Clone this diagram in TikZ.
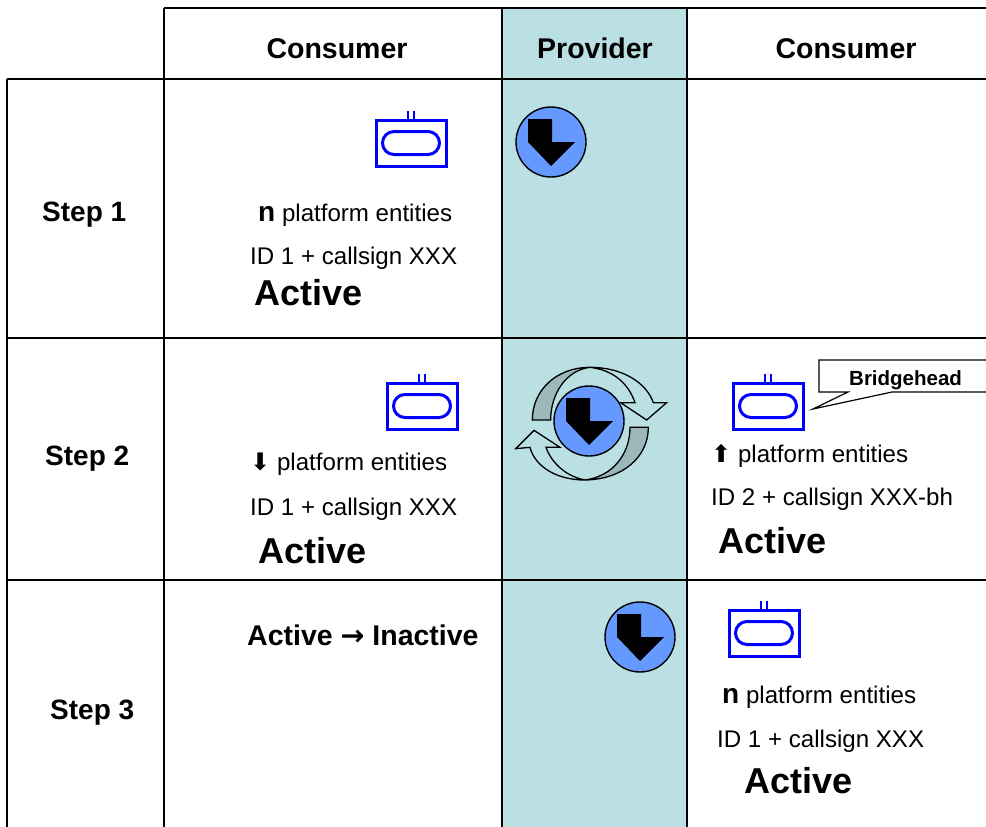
\documentclass[tikz,border=0pt]{standalone}
\usepackage{fontspec}
\setmainfont{Liberation Sans}
\newfontfamily\symfont{DejaVu Sans}
\usetikzlibrary{positioning, shapes.misc}

\definecolor{providerbg}{HTML}{BAE0E3}
\definecolor{diskblue}{HTML}{6699FF}
\definecolor{ribbongray}{HTML}{9CB8BA}
\definecolor{unitblue}{HTML}{0000FF}

\tikzset{
    header/.style={font=\fontsize{28.5}{32}\selectfont\bfseries, anchor=base},
    stepname/.style={font=\fontsize{28}{32}\selectfont\bfseries, anchor=base west, inner sep=0pt},
    body/.style={font=\fontsize{24.1}{28}\selectfont, anchor=base west, inner sep=0pt},
    state/.style={font=\fontsize{36}{40}\selectfont\bfseries, anchor=base west, inner sep=0pt},
    change/.style={font=\fontsize{28.5}{32}\selectfont\bfseries, anchor=base west, inner sep=0pt},
    gridline/.style={line width=1.8pt},
    unit/.pic={
        \draw[unitblue, line width=3pt] (-35,-23) rectangle (35,23);
        \node[draw=unitblue, line width=3pt, rounded rectangle, minimum width=57pt,
              minimum height=23pt, inner sep=0pt] (-inner) at (0,0) {};
        \draw[unitblue, line width=2pt] (-3,-24) -- (-3,-32);
        \draw[unitblue, line width=2pt] (3,-24) -- (3,-32);
    },
    disk/.pic={
        \node[circle, draw=black, line width=1.4pt, fill=diskblue, minimum size=70pt,
              inner sep=0pt] (-ring) at (0,0) {};
        \fill[black] (-23,-23) -- (1,-23) -- (1,0) -- (24,0) -- (0,24) -- (-23,0) -- cycle;
    }
}

\begin{document}
\begin{tikzpicture}[x=1pt, y=-1pt]
    \useasboundingbox (0,0) rectangle (986,827);
    \fill[white] (0,0) rectangle (986,827);
    \fill[providerbg] (502,8) rectangle (687,827);

    \draw[gridline] (164,8) -- (986,8);
    \draw[gridline] (7,79) -- (986,79);
    \draw[gridline] (7,338) -- (986,338);
    \draw[gridline] (7,580) -- (986,580);
    \draw[gridline] (7,79) -- (7,827);
    \draw[gridline] (164,8) -- (164,827);
    \draw[gridline] (502,8) -- (502,827);
    \draw[gridline] (687,8) -- (687,827);

    \node[header] (consumerl) at (337,58) {Consumer};
    \node[header] (provider) at (595,58) {Provider};
    \node[header] (consumerr) at (846,58) {Consumer};

    \node[stepname] (stepa) at (42,221) {Step 1};
    \node[stepname] (stepb) at (45,465) {Step 2};
    \node[stepname] (stepc) at (50,719) {Step 3};

    \pic (unita) at (411,143) {unit};
    \pic (diska) at (551,142) {disk};
    \node[body] (entitiesa) at (258,221) {{\fontsize{28}{32}\selectfont\bfseries n} platform entities};
    \node[body] (ida) at (250,264) {ID 1 + callsign XXX};
    \node[state] (activea) at (254,305) {Active};

    \pic (unitb) at (422,406) {unit};
    \node[body] (entitiesb) at (250,470) {{\symfont ⬇} platform entities};
    \node[body] (idb) at (250,515) {ID 1 + callsign XXX};
    \node[state] (activeb) at (258,563) {Active};

    \begin{scope}[shift={(500,350)}, scale=1/3, line width=1.3pt, draw=black]
        \filldraw[fill=ribbongray] (97,210) .. controls (97,120) and (170,52) .. (270,52)
            .. controls (200,60) and (152,130) .. (152,210) -- cycle;
        \filldraw[fill=providerbg] (270,52) .. controls (370,52) and (440,100) .. (460,158)
            -- (500,158) -- (440,210) -- (362,158) -- (405,158)
            .. controls (385,100) and (340,60) .. (270,52) -- cycle;
        \filldraw[fill=ribbongray] (445,232) .. controls (445,320) and (370,388) .. (255,390)
            .. controls (335,380) and (390,315) .. (390,232) -- cycle;
        \filldraw[fill=providerbg] (255,390) .. controls (170,390) and (105,350) .. (90,292)
            -- (47,296) -- (102,241) -- (180,292) -- (138,292)
            .. controls (155,340) and (200,380) .. (255,390) -- cycle;
    \end{scope}
    \pic (diskb) at (589,421) {disk};

    \pic (unitc) at (768,406) {unit};
    \node[font=\fontsize{20.5}{24}\selectfont\bfseries, anchor=base west, inner sep=0pt] (bridge) at (849,385) {Bridgehead};
    \coordinate (tip) at (813,409);
    \filldraw[fill=white, draw=black, line width=1.2pt] (1000,360) -- (819,360) -- (819,392) -- (848,392)
        -- (tip) -- (892,392) -- (1000,392);
    \node[font=\fontsize{20.5}{24}\selectfont\bfseries, anchor=base west, inner sep=0pt] (bridgetext) at (849,385) {Bridgehead};
    \node[body] (entitiesc) at (711,462) {{\symfont ⬆} platform entities};
    \node[body] (idc) at (711,505) {ID 2 + callsign XXX-bh};
    \node[state] (activec) at (718,553) {Active};

    \node[change] (inactive) at (247,645) {Active {\symfont\bfseries →} Inactive};
    \pic (diskc) at (640,637) {disk};

    \pic (unitd) at (764,633) {unit};
    \node[body] (entitiesd) at (722,703) {{\fontsize{28}{32}\selectfont\bfseries n} platform entities};
    \node[body] (idd) at (717,747) {ID 1 + callsign XXX};
    \node[state] (actived) at (744,793) {Active};
\end{tikzpicture}
\end{document}
